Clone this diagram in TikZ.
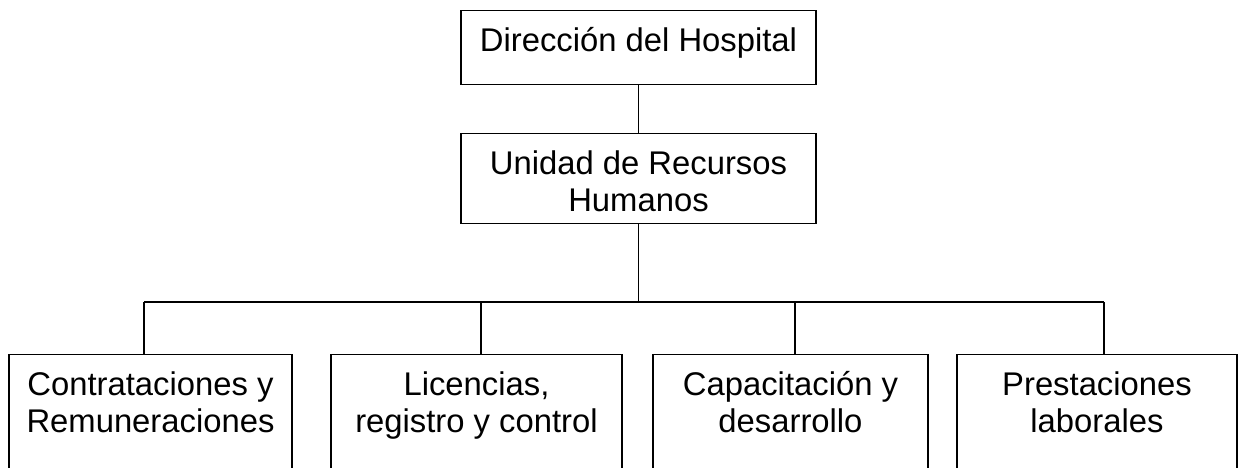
\documentclass[tikz,border=0pt]{standalone}
\usepackage{fontspec}
\setmainfont{Liberation Sans}
\usetikzlibrary{positioning}

\begin{document}
\begin{tikzpicture}[x=0.75pt, y=-0.75pt, line width=1pt,
    caja/.style={
        draw,
        inner sep=0pt,
        anchor=north,
        align=center,
        font=\fontsize{24.6}{27.6}\selectfont,
        text height=30.6pt},
    cajados/.style={
        caja,
        text height=58.2pt}]
    \useasboundingbox (0,0) rectangle (1240,468);
    \clip (0,0) rectangle (1240,468);

    \node[
        caja,
        minimum width=266.25pt,
        text depth=24.9pt] (direccion) at (638.5,10) {Dirección del Hospital};
    \node[
        cajados,
        minimum width=266.25pt,
        text depth=9.3pt] (rrhh) at (638.5,133) {Unidad de Recursos\\Humanos};

    % unidades de la fila inferior
    \node[
        cajados,
        minimum width=212.25pt,
        text depth=51pt] (contrataciones) at (150.5,354) {Contrataciones y\\Remuneraciones};
    \node[
        cajados,
        minimum width=218.25pt,
        text depth=51pt] (licencias) at (476.5,354) {Licencias,\\registro y control};
    \node[
        cajados,
        minimum width=206.25pt,
        text depth=51pt] (capacitacion) at (790.5,354) {Capacitación y\\desarrollo};
    \node[
        cajados,
        minimum width=210pt,
        text depth=51pt] (prestaciones) at (1097,354) {Prestaciones\\laborales};

    \coordinate (rama1) at (144,302);
    \coordinate (rama2) at (481,302);
    \coordinate (rama3) at (795,302);
    \coordinate (rama4) at (1104,302);

    \draw (direccion) -- (rrhh);
    \draw (rrhh.south) -- (rrhh.south |- rama1);
    \draw (rama1) -- (rama4);
    \draw (rama1) -- (rama1 |- contrataciones.north);
    \draw (rama2) -- (rama2 |- licencias.north);
    \draw (rama3) -- (rama3 |- capacitacion.north);
    \draw (rama4) -- (rama4 |- prestaciones.north);
\end{tikzpicture}
\end{document}
